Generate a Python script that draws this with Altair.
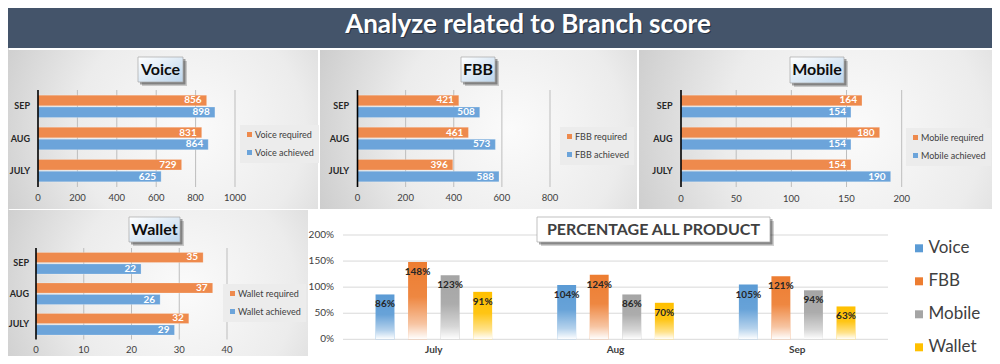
import altair as alt
import pandas as pd

# ---------------- data ----------------
months = ["SEP", "AUG", "JULY"]
voice_required = [856, 831, 729]
voice_achieved = [898, 864, 625]
fbb_required = [421, 461, 396]
fbb_achieved = [508, 573, 588]
mobile_required = [164, 180, 154]
mobile_achieved = [154, 154, 190]
wallet_required = [35, 37, 32]
wallet_achieved = [22, 26, 29]

voice_ticks = [0, 200, 400, 600, 800, 1000]
fbb_ticks = [0, 200, 400, 600, 800]
mobile_ticks = [0, 50, 100, 150, 200]
wallet_ticks = [0, 10, 20, 30, 40]

pct_months = ["July", "Aug", "Sep"]
products = ["Voice", "FBB", "Mobile", "Wallet"]
pct_voice = [0.86, 1.04, 1.05]
pct_fbb = [1.48, 1.24, 1.21]
pct_mobile = [1.23, 0.86, 0.94]
pct_wallet = [0.91, 0.70, 0.63]
pct_ticks = [0, 0.5, 1.0, 1.5, 2.0]

main_title = "Analyze related to Branch score"
pct_title = "PERCENTAGE ALL PRODUCT"

# ---------------- style ----------------
FONT = "Lato"
W, H = 984, 348
OFF = 8


def P(v):
    return v - OFF


ORANGE = "#EE8A4D"
BLUE = "#6CA4DA"
PROD_COLORS = ["#5B9BD5", "#ED7D31", "#A5A5A5", "#FFC000"]

_one = alt.Data(values=[{"d": 0}])


def rect(x1, y1, x2, y2, **kw):
    return alt.Chart(_one).mark_rect(**kw).encode(
        x=alt.value(P(x1)), x2=alt.value(P(x2)), y=alt.value(P(y1)), y2=alt.value(P(y2))
    )


def label(txt, x, y, **kw):
    return alt.Chart(_one).mark_text(text=txt, font=FONT, baseline="middle", align="center", **kw).encode(
        x=alt.value(P(x)), y=alt.value(P(y))
    )


panel_grad = {
    "gradient": "radial",
    "stops": [{"offset": 0, "color": "#fbfbfb"}, {"offset": 0.45, "color": "#ececec"}, {"offset": 1, "color": "#bdbdbd"}],
    "x1": 0.6, "y1": 0.5, "r1": 0, "x2": 0.6, "y2": 0.5, "r2": 0.8,
}
box_grad = {
    "gradient": "linear",
    "stops": [{"offset": 0, "color": "#ffffff"}, {"offset": 1, "color": "#bcd5ec"}],
    "x1": 0, "y1": 0, "x2": 1, "y2": 1,
}


def bar_panel(name, req, ach, ticks, x0, x1, y0, y1, pin, pout, xlab_y, ylab_x, lx, ly):
    dom = [f"{name} required", f"{name} achieved"]
    df = pd.DataFrame({
        "month": months * 2,
        "series": [dom[0]] * 3 + [dom[1]] * 3,
        "value": req + ach,
    })
    xs = alt.Scale(domain=[ticks[0], ticks[-1]], range=[P(x0), P(x1)], nice=False, zero=True)
    ys = alt.Scale(domain=months, range=[P(y0), P(y1)], paddingInner=pin, paddingOuter=pout)
    yo = alt.YOffset("series:N", scale=alt.Scale(domain=dom, paddingInner=0.12, paddingOuter=0))
    legend = alt.Legend(orient="none", legendX=P(lx), legendY=P(ly), title=None, symbolType="square",
                        symbolSize=25, symbolStrokeWidth=0, labelFont=FONT, labelFontSize=9,
                        labelColor="#404040", fillColor="#ececec", padding=5, rowPadding=8, labelOffset=1)
    grid = alt.Chart(pd.DataFrame({"t": ticks[1:]})).mark_rule(color="#bdbdbd", strokeWidth=1).encode(
        x=alt.X("t:Q", scale=xs, axis=None), y=alt.value(P(y0)), y2=alt.value(P(y1))
    )
    bars = alt.Chart(df).mark_bar(stroke="#ffffff", strokeOpacity=0.35, strokeWidth=0.6).encode(
        x=alt.X("value:Q", scale=xs, axis=None),
        y=alt.Y("month:N", scale=ys, axis=None),
        yOffset=yo,
        color=alt.Color("series:N", scale=alt.Scale(domain=dom, range=[ORANGE, BLUE]), legend=legend),
    )
    texts = alt.Chart(df).mark_text(align="right", baseline="middle", dx=-5, color="white", font=FONT,
                                   fontWeight="bold", fontSize=10).encode(
        x=alt.X("value:Q", axis=None),
        y=alt.Y("month:N", axis=None),
        yOffset=alt.YOffset("series:N"),
        text="value:Q",
    )
    # axis: domain line, tick labels, category labels (all through the panel's scales)
    domain_line = alt.Chart(pd.DataFrame({"t": [ticks[0]]})).mark_rule(color="#000000", strokeWidth=1.6).encode(
        x=alt.X("t:Q", axis=None), y=alt.value(P(y0)), y2=alt.value(P(y1))
    )
    xlabels = alt.Chart(pd.DataFrame({"t": ticks})).mark_text(
        font=FONT, fontSize=9.5, color="#404040", align="center", baseline="middle"
    ).encode(x=alt.X("t:Q", axis=None), y=alt.value(P(xlab_y)), text="t:Q")
    ylabels = alt.Chart(pd.DataFrame({"m": months})).mark_text(
        font=FONT, fontSize=9, fontWeight="bold", color="#262626", align="right", baseline="middle"
    ).encode(y=alt.Y("m:N", axis=None), x=alt.value(P(ylab_x)), text="m:N")
    return alt.layer(grid, bars, texts, domain_line, xlabels, ylabels)


voice = bar_panel("Voice", voice_required, voice_achieved, voice_ticks, 38, 235, 90, 187, 0.3, 0.16,
                  197.7, 30, 240, 125)
fbb = bar_panel("FBB", fbb_required, fbb_achieved, fbb_ticks, 357.5, 550, 90, 187, 0.3, 0.16,
                197.7, 349, 560, 127)
mobile = bar_panel("Mobile", mobile_required, mobile_achieved, mobile_ticks, 681, 901.7, 90, 187, 0.3, 0.16,
                   198.5, 672.5, 906, 128)
wallet = bar_panel("Wallet", wallet_required, wallet_achieved, wallet_ticks, 36, 227, 248, 339.5, 0.29, 0.145,
                   350.3, 29, 223, 284)

# ---------------- percentage chart ----------------
pct_df = pd.DataFrame({
    "month": pct_months * 4,
    "product": [p for p in products for _ in pct_months],
    "value": pct_voice + pct_fbb + pct_mobile + pct_wallet,
})
pxs = alt.Scale(domain=pct_months, range=[P(343), P(888)], paddingInner=0, paddingOuter=0)
pys = alt.Scale(domain=[0, 2], range=[P(339.3), P(235)], nice=False, zero=True)
pxo = alt.XOffset("product:N", scale=alt.Scale(domain=products, paddingInner=0.42, paddingOuter=1))
pct_legend = alt.Legend(orient="none", legendX=P(910.5), legendY=P(239.8), title=None, symbolType="square",
                        symbolSize=64, symbolStrokeWidth=0, labelFont=FONT, labelFontSize=17,
                        labelColor="#404040", rowPadding=15, labelOffset=1, padding=0)
pgrid = alt.Chart(pd.DataFrame({"t": pct_ticks})).mark_rule(color="#d9d9d9", strokeWidth=1).encode(
    y=alt.Y("t:Q", scale=pys, axis=None), x=alt.value(P(343)), x2=alt.value(P(888))
)
pbars = alt.Chart(pct_df).mark_bar().encode(
    x=alt.X("month:N", scale=pxs, axis=None),
    xOffset=pxo,
    y=alt.Y("value:Q", scale=pys, axis=None),
    color=alt.Color("product:N", scale=alt.Scale(domain=products, range=PROD_COLORS), legend=pct_legend),
)
fade = {
    "gradient": "linear",
    "stops": [
        {"offset": 0, "color": "rgba(255,255,255,0)"},
        {"offset": 0.45, "color": "rgba(255,255,255,0.08)"},
        {"offset": 0.8, "color": "rgba(255,255,255,0.55)"},
        {"offset": 1, "color": "rgba(255,255,255,1)"},
    ],
    "x1": 0, "y1": 0, "x2": 0, "y2": 1,
}
pfade = alt.Chart(pct_df).mark_bar(fill=fade).encode(
    x=alt.X("month:N", axis=None), xOffset=alt.XOffset("product:N"), y=alt.Y("value:Q", axis=None)
)
plabels = alt.Chart(pct_df).mark_text(baseline="middle", align="center", dy=10, font=FONT, fontWeight="bold",
                                      fontSize=10, color="#262626").encode(
    x=alt.X("month:N", axis=None), xOffset=alt.XOffset("product:N"), y=alt.Y("value:Q", axis=None),
    text=alt.Text("value:Q", format=".0%"),
)
pylabels = alt.Chart(pd.DataFrame({"t": pct_ticks})).mark_text(
    font=FONT, fontSize=10, color="#404040", align="right", baseline="middle"
).encode(y=alt.Y("t:Q", axis=None), x=alt.value(P(334)), text=alt.Text("t:Q", format=".0%"))
pxlabels = alt.Chart(pd.DataFrame({"m": pct_months})).mark_text(
    font=FONT, fontSize=10, fontWeight="bold", color="#404040", align="center", baseline="middle"
).encode(x=alt.X("m:N", axis=None), y=alt.value(P(350.3)), text="m:N")
pct = alt.layer(pgrid, pbars, pfade, plabels, pylabels, pxlabels)

# ---------------- decorations ----------------
backgrounds = [
    rect(-10, -10, 1010, 48, fill="#44546A"),
    rect(0, 50, 318, 209, fill=panel_grad),
    rect(320, 50, 637, 209, fill=panel_grad),
    rect(639, 50, 998, 209, fill=panel_grad),
    rect(0, 210, 308, 370, fill=panel_grad),
    rect(309, 210, 998, 370, fill="#ffffff"),
    label(main_title, 529, 25.5, fontSize=26, fontWeight="bold", color="#1c2430", opacity=0.7),
    label(main_title, 528, 24.5, fontSize=26, fontWeight="bold", color="#ffffff"),
]


def title_box(txt, x1, y1, x2, y2, size, fill, color):
    return [
        rect(x1 + 4, y1 + 4, x2 + 4, y2 + 4, fill="#000000", opacity=0.18),
        rect(x1 + 2, y1 + 2, x2 + 2.5, y2 + 2.5, fill="#000000", opacity=0.35),
        rect(x1, y1, x2, y2, fill=fill, stroke="#a6a6a6", strokeWidth=0.7),
        label(txt, (x1 + x2) / 2, (y1 + y2) / 2, fontSize=size, fontWeight="bold", color=color),
    ]


boxes = (
    title_box("Voice", 138, 57, 183, 82, 16, box_grad, "#0d0d0d")
    + title_box("FBB", 461, 57, 495, 82, 16, box_grad, "#0d0d0d")
    + title_box("Mobile", 790, 57, 844, 83, 16, box_grad, "#0d0d0d")
    + title_box("Wallet", 129, 217, 180, 242, 16, box_grad, "#0d0d0d")
    + title_box(pct_title, 537, 217, 770, 242, 16, "#ffffff", "#404040")
)

chart = alt.layer(*backgrounds, voice, fbb, mobile, wallet, pct, *boxes).resolve_scale(
    x="independent", y="independent", color="independent", xOffset="independent", yOffset="independent"
).properties(
    width=W, height=H, autosize=alt.AutoSizeParams(type="none"), padding=0
).configure_view(stroke=None).configure(background="#ffffff")

chart.save("out.html", embed_options={"renderer": "svg", "actions": False})
